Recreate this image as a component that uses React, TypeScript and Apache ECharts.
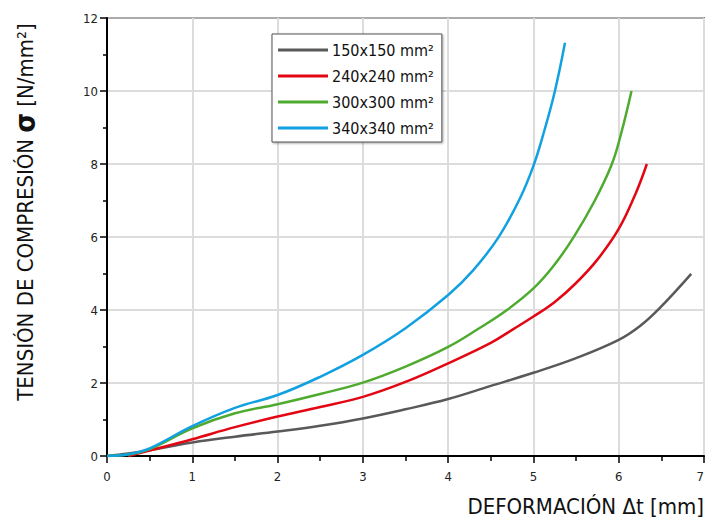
import React, { useEffect, useRef } from "react";
import * as echarts from "echarts";

const seriesNames = ["150x150 mm²", "240x240 mm²", "300x300 mm²", "340x340 mm²"];
const seriesColors = ["#59595b", "#e30613", "#4eab2f", "#12a1e0"];

const x150 = [0, 0.25, 0.5, 1, 1.5, 2, 2.5, 3, 3.5, 4, 4.5, 5, 5.5, 6, 6.25, 6.48, 6.85];
const y150 = [0, 0.07, 0.16, 0.37, 0.53, 0.67, 0.83, 1.03, 1.28, 1.56, 1.92, 2.28, 2.68, 3.18, 3.56, 4.05, 4.99];

const x240 = [0.25, 0.5, 1, 1.5, 2, 2.5, 3, 3.5, 4, 4.5, 4.76, 5, 5.25, 5.5, 5.75, 6, 6.2, 6.33];
const y240 = [0, 0.15, 0.46, 0.79, 1.08, 1.34, 1.62, 2.03, 2.54, 3.1, 3.47, 3.82, 4.22, 4.74, 5.38, 6.22, 7.2, 8.0];

const x300 = [0, 0.25, 0.5, 1, 1.5, 2, 2.5, 3, 3.5, 4, 4.35, 4.69, 5, 5.23, 5.47, 5.72, 5.92, 6.03, 6.15];
const y300 = [0, 0.04, 0.19, 0.76, 1.17, 1.42, 1.7, 2.01, 2.45, 2.99, 3.48, 4.0, 4.59, 5.19, 5.99, 7.0, 8.0, 8.85, 10.0];

const x340 = [0, 0.25, 0.5, 1, 1.5, 2, 2.5, 3, 3.5, 4, 4.29, 4.59, 4.84, 5, 5.12, 5.25, 5.37];
const y340 = [0, 0.05, 0.21, 0.82, 1.32, 1.67, 2.17, 2.77, 3.5, 4.41, 5.08, 5.99, 7.05, 7.95, 8.85, 9.98, 11.32];

const xValues = [x150, x240, x300, x340];
const yValues = [y150, y240, y300, y340];

const xAxisTitle = "DEFORMACIÓN Δt [mm]";
const yAxisTitle = "TENSIÓN DE COMPRESIÓN {s|σ} [N/mm²]";

const condensed = "'DejaVu Sans Condensed', 'Liberation Sans Narrow', 'Open Sans', sans-serif";

export default function App() {
  const ref = useRef<HTMLDivElement>(null);
  useEffect(() => {
    if (!ref.current) return;
    const chart = echarts.init(ref.current, undefined, { renderer: "svg" });
    const series = seriesNames.map((name, i) => ({
      name,
      type: "line",
      smooth: 0.4,
      symbol: "none",
      data: xValues[i].map((x, j) => [x, yValues[i][j]]),
      lineStyle: { color: seriesColors[i], width: 2.5 },
      itemStyle: { color: seriesColors[i] },
      z: 3 + i,
    }));
    chart.setOption({
      animation: false,
      backgroundColor: "#ffffff",
      grid: {
        left: 107,
        right: 2,
        top: 18,
        bottom: 62,
        containLabel: false,
        outerBoundsMode: "none",
        show: true,
        borderColor: "#000",
        borderWidth: 1.5,
      },
      legend: {
        orient: "vertical",
        left: 272,
        top: 34,
        icon: "rect",
        itemWidth: 50,
        itemHeight: 3,
        itemGap: 10,
        padding: [8, 8, 6, 6],
        backgroundColor: "#fff",
        borderColor: "#555",
        borderWidth: 1,
        shadowColor: "rgba(0,0,0,0.35)",
        shadowBlur: 2,
        shadowOffsetX: 1,
        shadowOffsetY: 1,
        textStyle: {
          fontFamily: condensed,
          fontSize: 16,
          lineHeight: 16,
          color: "#111",
          padding: [0, 0, 0, -1],
        },
        data: seriesNames,
      },
      xAxis: {
        type: "value",
        min: 0,
        max: 7,
        interval: 1,
        axisLine: { show: true, lineStyle: { color: "#000", width: 2 } },
        axisTick: { show: true, inside: false, length: 7, lineStyle: { color: "#000", width: 1.5 } },
        minorTick: { show: true, splitNumber: 2, length: 5, lineStyle: { color: "#000", width: 1.5 } },
        axisLabel: { margin: 14, fontFamily: condensed, fontSize: 13, color: "#222", alignMaxLabel: "right" },
        splitLine: { show: true, lineStyle: { color: "#dcdcdc", width: 2 } },
      },
      yAxis: {
        type: "value",
        min: 0,
        max: 12,
        interval: 2,
        axisLine: { show: true, lineStyle: { color: "#000", width: 2 } },
        axisTick: { show: true, inside: false, length: 7, lineStyle: { color: "#000", width: 1.5 } },
        minorTick: { show: true, splitNumber: 2, length: 4, lineStyle: { color: "#000", width: 1.5 } },
        axisLabel: { margin: 9, fontFamily: condensed, fontSize: 13, color: "#222" },
        splitLine: { show: true, lineStyle: { color: "#d0d0d0", width: 1.5 } },
      },
      graphic: [
        {
          type: "text",
          x: 704,
          y: 506,
          style: {
            text: xAxisTitle,
            align: "right",
            verticalAlign: "middle",
            fontFamily: condensed,
            fontSize: 22,
            fill: "#111",
          },
        },
        {
          type: "text",
          x: 25,
          y: 212,
          rotation: Math.PI / 2,
          style: {
            text: yAxisTitle,
            align: "center",
            verticalAlign: "middle",
            fontFamily: condensed,
            fontSize: 22,
            fill: "#111",
            rich: {
              s: { fontFamily: condensed, fontSize: 28, fontWeight: "bold", fill: "#111" },
            },
          },
        },
      ],
      series,
    });
    return () => chart.dispose();
  }, []);
  return <div ref={ref} style={{ width: 706, height: 518, position: "absolute", left: 0, top: 0 }} />;
}
